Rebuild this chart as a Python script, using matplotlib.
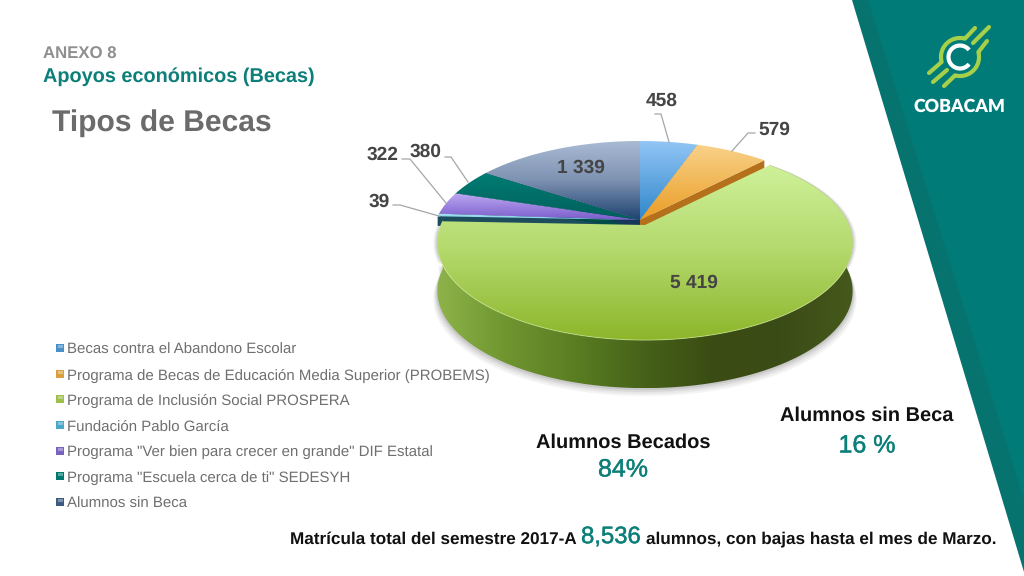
import numpy as np
import matplotlib
matplotlib.use("Agg")
import matplotlib.pyplot as plt
import matplotlib.patheffects as pe
from matplotlib.colors import LinearSegmentedColormap as LSC
from matplotlib.patches import Polygon, Rectangle

plt.rcParams['font.family'] = ['Liberation Sans', 'DejaVu Sans']
plt.rcParams['text.hinting'] = 'none'

categories = ['Becas contra el Abandono Escolar',
              'Programa de Becas de Educación Media Superior (PROBEMS)',
              'Programa de Inclusión Social PROSPERA',
              'Fundación Pablo García',
              'Programa "Ver bien para crecer en grande" DIF Estatal',
              'Programa "Escuela cerca de ti" SEDESYH',
              'Alumnos sin Beca']
values = [458, 579, 5419, 39, 322, 380, 1339]
value_labels = ['458', '579', '5 419', '39', '322', '380', '1 339']
top_colors = [['#93c6f6', '#2f87ca'], ['#f9d28a', '#ea9d25'],
              ['#cef199', '#b3d86b', '#8db62b'], ['#a8e2f2', '#7fd0e8'],
              ['#bca9f2', '#7b5ccb'], ['#007d73', '#005f5c'],
              ['#aabbd4', '#7e92b2', '#1d4270']]
wall_colors = ['#1c5f8f', '#b5701c', '#5c7f22', '#1d4c5c', '#1d4c5c', '#004c48', '#17375a']
legend_colors = ['#4a90c8', '#d9a040', '#9cc04a', '#4ba8c8', '#7a63c0', '#00786f', '#3d5a80']
TEAL = '#0b7f78'

fig = plt.figure(figsize=(10.24, 5.76), dpi=100)
ax = fig.add_axes([0, 0, 1, 1])
ax.set_axis_off()
W, H = 1024, 576


def setlims():
    ax.set_xlim(0, W)
    ax.set_ylim(H, 0)


setlims()

# Pie geometry (perspective-projected disc)
CX, CY, A, B, K, DEPTH = 640, 220, 204, 93.7, 0.186, 48


def project(theta_deg, r=1.0, dx=0, dy=0):
    t = np.radians(theta_deg)
    u, v = r * np.sin(t), -r * np.cos(t)
    d = 1 - K * v
    return CX + dx + A * u / d, CY + dy + B * v / d


def grad_fill(pts, colors, horizontal=False, zorder=2):
    pts = np.asarray(pts)
    x0, x1 = pts[:, 0].min(), pts[:, 0].max()
    y0, y1 = pts[:, 1].min(), pts[:, 1].max()
    cmap = LSC.from_list('g', colors)
    g = np.linspace(0, 1, 256)
    arr = g[None, :] if horizontal else g[:, None]
    im = ax.imshow(arr, cmap=cmap, extent=(x0, x1, y1, y0), origin='upper',
                   aspect='auto', zorder=zorder, interpolation='bilinear')
    patch = Polygon(pts, closed=True, transform=ax.transData, facecolor='none', edgecolor='none')
    ax.add_patch(patch)
    im.set_clip_path(patch)
    setlims()


def arc_pts(a0, a1, dx=0, dy=0):
    th = np.linspace(a0, a1, max(int(abs(a1 - a0) * 2), 3))
    return np.column_stack(project(th, 1.0, dx, dy))


# Side bands of the slide
ax.add_patch(Polygon([(852, 0), (W, 0), (W, 572)], closed=True, fc='#07736f', ec='none', zorder=1))
ax.add_patch(Polygon([(868, 0), (W, 0), (W, 500)], closed=True, fc='#007b78', ec='none', zorder=1))

# Angles from the values
total = sum(values)
edges = np.concatenate([[0], np.cumsum(values)]) / total * 360
GREEN = 2
offsets = [(5, 5) if i == GREEN else (0, 0) for i in range(len(values))]

# Shadow under the pie
dx, dy = offsets[GREEN]
outline = arc_pts(edges[GREEN], edges[GREEN + 1], dx, dy)
for grow, alpha in [(8, .05), (6, .06), (4, .08), (2, .10)]:
    low = outline + np.array([0, DEPTH + grow])
    sh = np.vstack([outline, low[::-1]])
    sh[:, 0] = (sh[:, 0] - 645) * (1 + grow / 420) + 645
    ax.add_patch(Polygon(sh, closed=True, fc='#333333', ec='none', alpha=alpha, zorder=1.5))

# Radial walls of the rear wedges
WALL = DEPTH * .2
for i in range(len(values)):
    if i == GREEN:
        continue
    for ang in (edges[i], edges[i + 1]):
        ex, ey = project(ang)
        ax.add_patch(Polygon([(CX, CY), (ex, ey), (ex, ey + WALL), (CX, CY + WALL)],
                             closed=True, fc=wall_colors[i], ec='none', zorder=2))

# Tops of the rear wedges
for i in range(len(values)):
    if i == GREEN:
        continue
    pts = np.vstack([[(CX, CY)], arc_pts(edges[i], edges[i + 1])])
    grad_fill(pts, top_colors[i], zorder=3)

# Green wedge: wall, then top
low = outline + np.array([0, DEPTH])
grad_fill(np.vstack([outline, low[::-1]]),
          ['#8db34a', '#6f9530', '#5a7d22', '#466119', '#3a4c13', '#3b4c16', '#46591c'],
          horizontal=True, zorder=4)
grad_fill(np.vstack([[(CX + dx, CY + dy)], outline]), top_colors[GREEN], zorder=5)
ax.plot(outline[:, 0], outline[:, 1], color='#d4ec9c', lw=0.7, alpha=.6, zorder=5)

# Value labels and leader lines
label_pos = [(662, 98), (774, 127), (694, 280), (379, 199), (383, 152), (426, 149), (581, 165)]
leaders = [[(655, 114), (661, 114), (669, 142)],
           [(755, 133), (748, 133), (732, 151)],
           None,
           [(393, 205), (400, 205), (439, 216)],
           [(402, 159), (410, 159), (446, 203)],
           [(445, 157), (451, 157), (468, 182)],
           None]
for lab, pos, ld in zip(value_labels, label_pos, leaders):
    ax.text(pos[0], pos[1] + 2.5, lab, fontsize=13.8, fontweight='bold', color='#454545',
            ha='center', va='center', zorder=7)
    if ld:
        ax.plot(*zip(*ld), color='#a6a6a6', lw=0.9, zorder=6)

# Legend
legend_y = [348, 373.5, 399, 425, 450.5, 476, 502]
for cat, col, y in zip(categories, legend_colors, legend_y):
    ax.add_patch(Rectangle((56, y - 4), 8, 8, fc=col, ec='none', zorder=6))
    ax.add_patch(Rectangle((57.5, y - 3), 5, 3, fc='white', ec='none', alpha=.35, zorder=6.1))
    ax.text(67, y + 2, cat, fontsize=10.8, color='#6f6f6f', ha='left', va='center', zorder=7)

# Headings
ax.text(43, 54, 'ANEXO 8', fontsize=12.1, fontweight='bold', color='#8f8f8f', va='center', zorder=7)
ax.text(43, 77, 'Apoyos económicos (Becas)', fontsize=14.3, fontweight='bold', color=TEAL, va='center', zorder=7)
ax.text(52, 123, 'Tipos de Becas', fontsize=21.6, fontweight='bold', color='#6b6b6b', va='center', zorder=7)

# Call-outs
thick = [pe.withStroke(linewidth=0.3, foreground=TEAL)]
ax.text(623, 442.5, 'Alumnos Becados', fontsize=14.4, fontweight='bold', color='#111111', ha='center', va='center', zorder=7)
ax.text(623, 470, '84%', fontsize=18, color=TEAL, ha='center', va='center', zorder=7, path_effects=thick)
ax.text(867, 416, 'Alumnos sin Beca', fontsize=14.4, fontweight='bold', color='#111111', ha='center', va='center', zorder=7)
ax.text(867, 446, '16 %', fontsize=18, color=TEAL, ha='center', va='center', zorder=7, path_effects=thick)

# Footer
ax.text(577, 539, 'Matrícula total del semestre 2017-A', fontsize=12.3, fontweight='bold', color='#111111', ha='right', va='center', zorder=7)
ax.text(581, 537, '8,536', fontsize=17.2, color=TEAL, ha='left', va='center', zorder=7, path_effects=thick)
ax.text(646, 539, 'alumnos, con bajas hasta el mes de Marzo.', fontsize=12.3, fontweight='bold', color='#111111', ha='left', va='center', zorder=7)

# Logo
LG, LX, LY, LR = '#a6cf4a', 960, 57, 19


def ring(a0, a1, r):
    t = np.radians(np.linspace(a0, a1, 60))
    return LX + r * np.cos(t), LY - r * np.sin(t)


for a0, a1, start, end in [(75, 195, (975, 28), (929, 73)), (255, 375, (944, 86), (987, 41))]:
    xs, ys = ring(a0, a1, LR)
    ax.plot(np.r_[start[0], xs, end[0]], np.r_[start[1], ys, end[1]], color=LG, lw=3,
            solid_capstyle='round', solid_joinstyle='round', zorder=8)
for (x0, y0, x1, y1) in [(933, 82, 947, 70), (973, 43, 989, 27)]:
    ax.plot([x0, x1], [y0, y1], color=LG, lw=3, solid_capstyle='round', zorder=8)
xs, ys = ring(38, 322, 11.5)
ax.plot(xs, ys, color='white', lw=3, solid_capstyle='butt', zorder=9)
ax.text(959, 107, 'COBACAM', fontsize=12.8, fontweight='heavy', family=['Lato', 'DejaVu Sans'],
        color='white', ha='center', va='center', zorder=9)

fig.savefig('out.png', dpi=100)
